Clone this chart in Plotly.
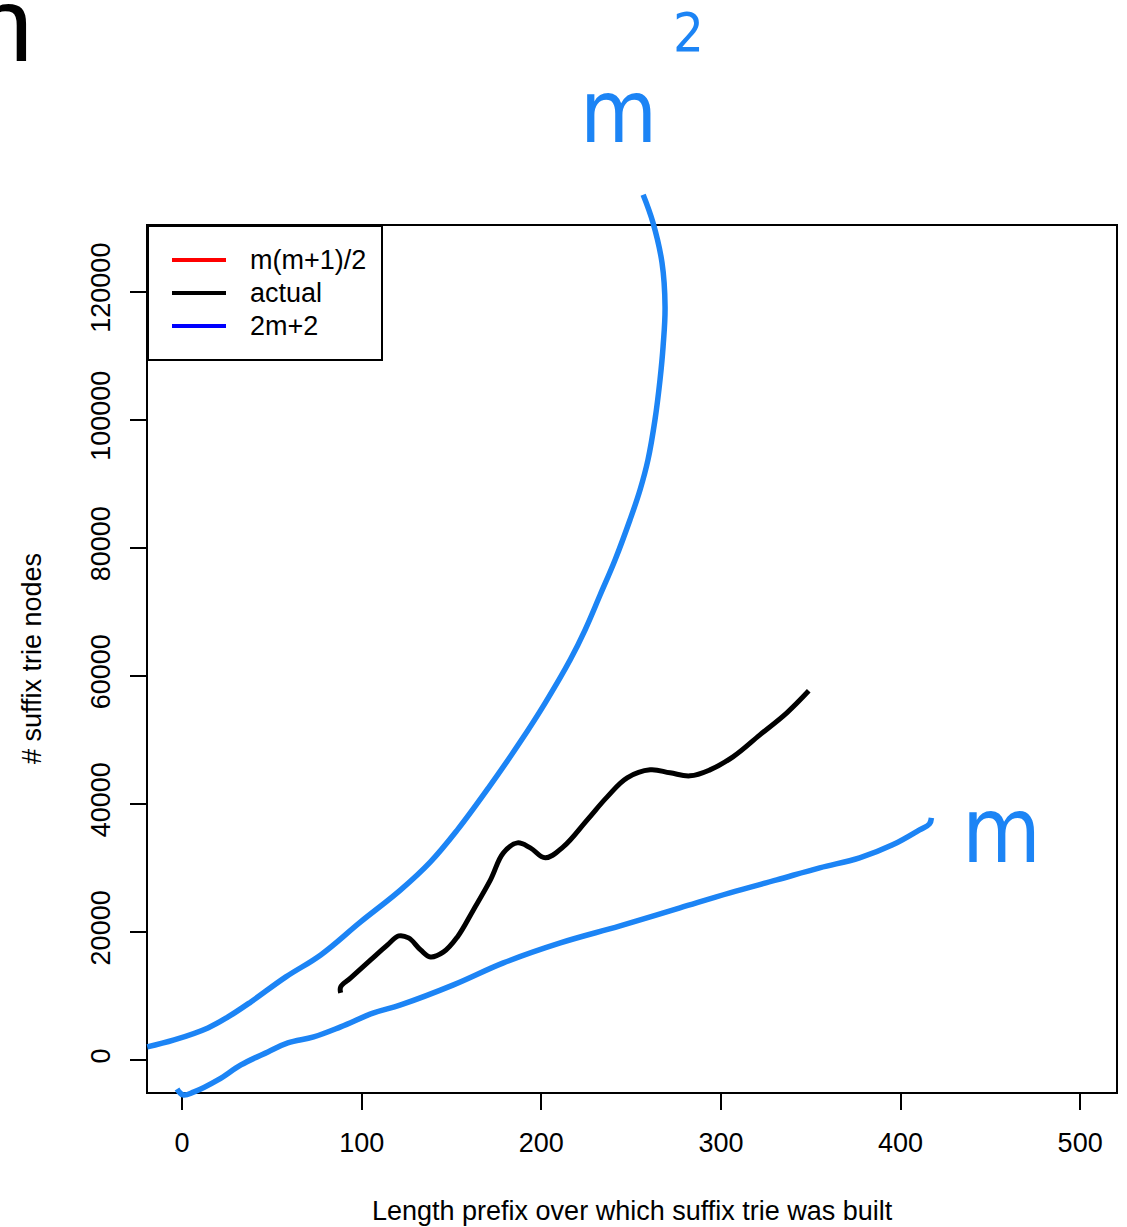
import plotly.graph_objects as go

# ---------------- data ----------------
x_ticks = [0, 100, 200, 300, 400, 500]
y_ticks = [0, 20000, 40000, 60000, 80000, 100000, 120000]

legend_labels = ["m(m+1)/2", "actual", "2m+2"]
legend_colors = ["#FF0000", "#000000", "#0000FF"]

# hand-drawn blue curve sketching m^2 growth
upper_x = [-19.4, -4.4, 14.4, 25.6, 38.3, 57.8, 77.2, 99.4, 121.7, 138.3, 153.3,
           170.6, 188.3, 202.2, 216.1, 224.4, 232.8, 241.1, 249.4, 255.0, 259.4,
           263.3, 266.1, 267.8, 268.9, 267.2, 262.2, 256.7]
upper_y = [2031, 3125, 5000, 6719, 9063, 12969, 16406, 21563, 26563, 30938, 35938,
           42500, 49688, 55781, 62500, 67188, 72656, 78125, 84375, 89063, 93750,
           100000, 106250, 111406, 117656, 124531, 130781, 135156]

# "actual" curve (black)
actual_x = [88.3, 88.3, 93.9, 105.0, 114.4, 120.6, 126.1, 132.8, 138.3, 145.6, 153.3,
            162.2, 171.7, 178.9, 186.7, 193.9, 202.2, 212.2, 225.6, 236.7, 247.8,
            260.6, 271.7, 282.8, 293.9, 306.7, 321.7, 336.7, 348.9]
actual_y = [10469, 11406, 12813, 15625, 17969, 19375, 19063, 17188, 16094, 16875, 19219,
            23438, 28125, 32344, 33906, 33125, 31563, 33281, 37500, 41094, 44063,
            45313, 44844, 44375, 45313, 47344, 50781, 54219, 57656]

# hand-drawn blue curve sketching linear growth
lower_x = [-2.8, 0.6, 6.7, 20.0, 32.8, 47.8, 58.9, 73.3, 88.3, 106.7, 121.7, 151.1,
           178.9, 210.6, 243.9, 277.2, 305.0, 331.1, 355.0, 377.2, 395.6, 410.6,
           416.1, 417.2]
lower_y = [-4531, -5469, -5000, -3125, -781, 1250, 2656, 3594, 5156, 7344, 8594, 11719,
           15156, 18281, 20938, 23750, 26094, 28125, 30000, 31563, 33594, 35938,
           36875, 37813]

# ---------------- layout constants ----------------
W, H = 1127, 1227
FRAME_L, FRAME_R, FRAME_T, FRAME_B = 148, 1116, 226, 1092
X_RANGE = [-18.96, 519.96]
Y_RANGE = [-5009, 130260]
BLUE = "#1C84F5"
FONT = "Liberation Sans, Arial, Helvetica, sans-serif"
HAND = "Liberation Sans Narrow, DejaVu Sans Condensed, Liberation Sans"
FS = 27

dx = [FRAME_L / W, FRAME_R / W]
dy = [1 - FRAME_B / H, 1 - FRAME_T / H]


def extend(r, d):
    s = (r[1] - r[0]) / (d[1] - d[0])
    return [r[0] - d[0] * s, r[0] + (1 - d[0]) * s]


def px(x):
    return x / W


def py(y):
    return 1 - y / H


fig = go.Figure()

fig.add_trace(go.Scatter(x=actual_x, y=actual_y, mode="lines", name="actual",
                         line=dict(color="#000000", width=5, shape="spline", smoothing=1.1),
                         xaxis="x", yaxis="y", hoverinfo="skip"))
fig.add_trace(go.Scatter(x=upper_x, y=upper_y, mode="lines", name="m^2 sketch",
                         line=dict(color=BLUE, width=5.5, shape="spline", smoothing=1.1),
                         xaxis="x2", yaxis="y2", hoverinfo="skip"))
fig.add_trace(go.Scatter(x=lower_x, y=lower_y, mode="lines", name="m sketch",
                         line=dict(color=BLUE, width=5.5, shape="spline", smoothing=1.1),
                         xaxis="x2", yaxis="y2", hoverinfo="skip"))

axis_common = dict(showline=True, mirror=True, linecolor="black", linewidth=2,
                   ticks="outside", ticklen=16, tickwidth=2, tickcolor="black",
                   showgrid=False, zeroline=False, automargin=False,
                   tickfont=dict(family=FONT, size=FS, color="black"))

fig.update_layout(
    width=W, height=H, autosize=False,
    margin=dict(l=0, r=0, t=0, b=0, pad=0),
    paper_bgcolor="white", plot_bgcolor="rgba(0,0,0,0)",
    showlegend=False,
    xaxis=dict(domain=dx, range=X_RANGE, anchor="y", tickvals=x_ticks,
               ticktext=[str(v) for v in x_ticks], ticklabelstandoff=10, **axis_common),
    yaxis=dict(domain=dy, range=Y_RANGE, anchor="x", tickvals=y_ticks,
               ticktext=[str(v) for v in y_ticks], tickangle=-90,
               ticklabelstandoff=9, **axis_common),
    xaxis2=dict(domain=[0, 1], range=extend(X_RANGE, dx), anchor="y2", visible=False),
    yaxis2=dict(domain=[0, 1], range=extend(Y_RANGE, dy), anchor="x2", visible=False),
)

annotations = [
    dict(text="Length prefix over which suffix trie was built", x=px(632), y=py(1211),
         xref="paper", yref="paper", showarrow=False, xanchor="center", yanchor="middle",
         font=dict(family=FONT, size=FS, color="black")),
    dict(text="# suffix trie nodes", x=px(32), y=py(659), textangle=-90,
         xref="paper", yref="paper", showarrow=False, xanchor="center", yanchor="middle",
         font=dict(family=FONT, size=FS, color="black")),
    # hand-written notes
    dict(text="m", x=px(618), y=py(112), xref="paper", yref="paper", showarrow=False,
         xanchor="center", yanchor="middle", font=dict(family=HAND, size=88, color=BLUE)),
    dict(text="2", x=px(688), y=py(32), xref="paper", yref="paper", showarrow=False,
         xanchor="center", yanchor="middle", font=dict(family=HAND, size=54, color=BLUE)),
    dict(text="m", x=px(1001), y=py(830), xref="paper", yref="paper", showarrow=False,
         xanchor="center", yanchor="middle", font=dict(family=HAND, size=90, color=BLUE)),
    # cut-off slide title letter
    dict(text="n", x=px(-28), y=py(24), xref="paper", yref="paper", showarrow=False,
         xanchor="left", yanchor="middle", font=dict(family=FONT, size=106, color="black")),
]

shapes = [dict(type="rect", xref="paper", yref="paper", x0=px(148), x1=px(382),
               y0=py(360), y1=py(226), line=dict(color="black", width=2),
               fillcolor="white", layer="above")]
legend_y = [260, 293, 326]
for lab, col, yy in zip(legend_labels, legend_colors, legend_y):
    shapes.append(dict(type="line", xref="paper", yref="paper", x0=px(172), x1=px(226),
                       y0=py(yy), y1=py(yy), line=dict(color=col, width=4), layer="above"))
    annotations.append(dict(text=lab, x=px(248), y=py(yy), xref="paper", yref="paper",
                            showarrow=False, xanchor="left", yanchor="middle",
                            font=dict(family=FONT, size=FS, color="black")))

fig.update_layout(annotations=annotations, shapes=shapes)
fig.write_html("out.html", config={"displayModeBar": False, "staticPlot": True},
               post_script="document.body.style.margin='0';document.body.style.overflow='hidden';")
